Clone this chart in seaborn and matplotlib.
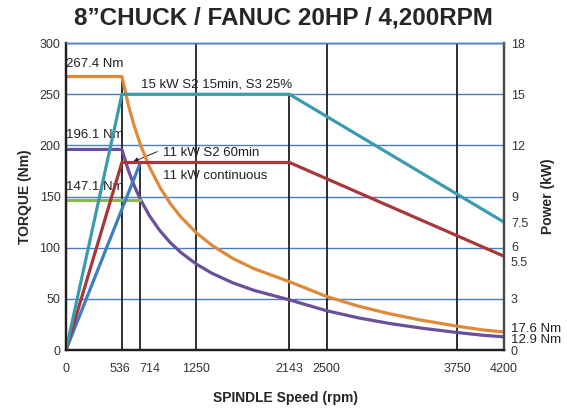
import numpy as np
import pandas as pd
import matplotlib
matplotlib.use("Agg")
import matplotlib.pyplot as plt
import matplotlib.transforms as mtransforms
import seaborn as sns

# torque curves (Nm)
s2_15_rpm = [0, 536, 600, 650, 714, 800, 900, 1000, 1100, 1250, 1400, 1600, 1800, 2143,
             2500, 2800, 3100, 3400, 3750, 4000, 4200]
s2_15_nm = [267.4, 267.4, 238.7, 220.4, 200.6, 179.0, 159.2, 143.2, 130.2, 114.6, 102.3, 89.5, 79.6, 66.8,
            52.3, 43.0, 35.5, 29.3, 23.3, 19.6, 17.6]

s2_60_rpm = [0, 536, 600, 650, 714, 800, 900, 1000, 1100, 1250, 1400, 1600, 1800, 2143,
             2500, 2800, 3100, 3400, 3750, 4000, 4200]
s2_60_nm = [196.1, 196.1, 175.1, 161.6, 147.1, 131.3, 116.7, 105.0, 95.5, 84.0, 75.0, 65.7, 58.4, 49.0,
            38.4, 31.5, 26.0, 21.5, 17.1, 14.4, 12.9]

cont_rpm = [0, 714]
cont_nm = [147.1, 147.1]

# power curves (kW)
p15_rpm = [0, 536, 2143, 4200]
p15_kw = [0, 15, 15, 7.5]
p11_rpm = [0, 536, 2143, 4200]
p11_kw = [0, 11, 11, 5.5]
p11c_rpm = [0, 714]
p11c_kw = [0, 11]

x_ticks = [0, 536, 714, 1250, 2143, 2500, 3750, 4200]
torque_ticks = [0, 50, 100, 150, 200, 250, 300]
power_ticks = [0, 3, 5.5, 6, 7.5, 9, 12, 15, 18]
power_labels = ['0', '3', '5.5', '6', '7.5', '9', '12', '15', '18']

# vertical guide lines: speed, top (Nm)
guide_rpm = [536, 714, 1250, 2143, 2500, 3750]
guide_top = [267.4, 183.3, 300, 250, 300, 300]

sns.set_style("white")
plt.rcParams['font.family'] = ['Liberation Sans', 'DejaVu Sans']

fig = plt.figure(figsize=(5.67, 4.15), dpi=100)
ax = fig.add_axes([0.1164, 0.1566, 0.7725, 0.7394])

grid_c = '#4A7CC4'
for t in torque_ticks[1:]:
    ax.axhline(t, color=grid_c, lw=1.0, zorder=1)

ax.vlines(guide_rpm, 0, guide_top, color='#231f20', lw=1.3, zorder=2)

lw = 2.3
sns.lineplot(x=s2_15_rpm, y=s2_15_nm, ax=ax, color='#E0893A', lw=lw, estimator=None, zorder=4)
sns.lineplot(x=s2_60_rpm, y=s2_60_nm, ax=ax, color='#6A4F9C', lw=lw, estimator=None, zorder=4)
sns.lineplot(x=cont_rpm, y=cont_nm, ax=ax, color='#8DB843', lw=lw, estimator=None, zorder=4)

ax.set_xlim(0, 4200)
ax.set_ylim(0, 300)
ax.set_xticks(x_ticks)
ax.set_yticks(torque_ticks)
ax.tick_params(length=0, labelsize=9, colors='#333333', pad=4)
ax.tick_params(axis='x', pad=9)

ax2 = ax.twinx()
sns.lineplot(x=p11c_rpm, y=p11c_kw, ax=ax2, color='#3C7DC4', lw=lw, estimator=None)
sns.lineplot(x=p11_rpm, y=p11_kw, ax=ax2, color='#A8363B', lw=lw, estimator=None)
sns.lineplot(x=p15_rpm, y=p15_kw, ax=ax2, color='#3A9BAF', lw=lw, estimator=None)
ax2.set_ylim(0, 18)
ax2.set_yticks(power_ticks)
ax2.set_yticklabels(power_labels)
ax2.tick_params(length=0, labelsize=9, colors='#333333', pad=5)

# nudge crowded tick labels apart, as in the original
for lab in ax.get_xticklabels():
    if lab.get_text() == '714':
        lab.set_transform(lab.get_transform() + mtransforms.ScaledTranslation(0.09, 0, fig.dpi_scale_trans))
    if lab.get_text() == '536':
        lab.set_transform(lab.get_transform() + mtransforms.ScaledTranslation(-0.02, 0, fig.dpi_scale_trans))
for lab in ax2.get_yticklabels():
    if lab.get_text() == '5.5':
        lab.set_transform(lab.get_transform() + mtransforms.ScaledTranslation(0, -0.05, fig.dpi_scale_trans))
    if lab.get_text() == '6':
        lab.set_transform(lab.get_transform() + mtransforms.ScaledTranslation(0, 0.01, fig.dpi_scale_trans))

for a in (ax, ax2):
    a.spines['top'].set_color(grid_c)
    a.spines['top'].set_linewidth(1.0)
    a.spines['left'].set_color('#231f20')
    a.spines['bottom'].set_color('#231f20')
    a.spines['right'].set_color('#4a4a4a')
    for s in ('left', 'bottom', 'right'):
        a.spines[s].set_linewidth(1.6)

ax.set_xlabel('SPINDLE Speed (rpm)', fontsize=10, fontweight='bold', labelpad=12)
ax.set_ylabel('TORQUE (Nm)', fontsize=10, fontweight='bold', labelpad=5)
ax2.set_ylabel('Power (kW)', fontsize=10, fontweight='bold', labelpad=9)
fig.suptitle('8\u201dCHUCK / FANUC 20HP / 4,200RPM', fontsize=17.5, fontweight='bold', y=0.985)

tk = dict(fontsize=9.5, color='#231f20')
ax.text(0, 280, '267.4 Nm', va='center', ha='left', **tk)
ax.text(0, 210, '196.1 Nm', va='center', ha='left', **tk)
ax.text(0, 159, '147.1 Nm', va='center', ha='left', **tk)
ax.text(720, 260, '15 kW S2 15min, S3 25%', va='center', ha='left', **tk)
ax.text(930, 193, '11 kW S2 60min', va='center', ha='left', **tk)
ax.text(930, 170, '11 kW continuous', va='center', ha='left', **tk)
ax.annotate('', xy=(620, 183), xytext=(900, 195),
            arrowprops=dict(arrowstyle='-|>', color='#231f20', lw=0.7, mutation_scale=7))
ax.text(4270, 21, '17.6 Nm', va='center', ha='left', clip_on=False, **tk)
ax.text(4270, 10, '12.9 Nm', va='center', ha='left', clip_on=False, **tk)

fig.savefig('out.png', dpi=100)
